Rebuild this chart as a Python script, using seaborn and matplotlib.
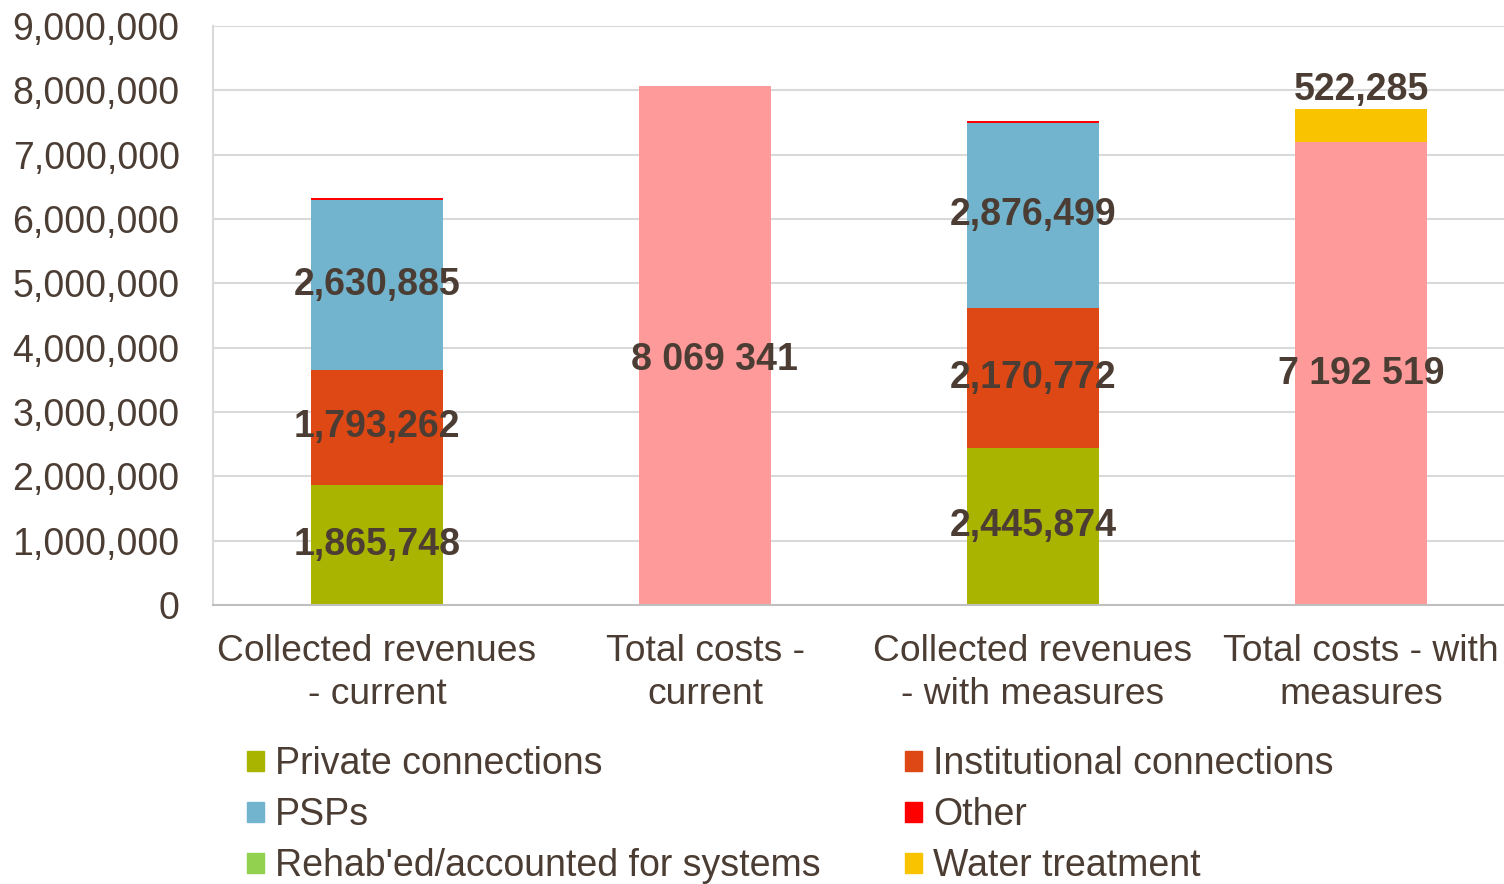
import pandas as pd
import matplotlib.pyplot as plt
import seaborn as sns
from matplotlib.patches import Patch

# chart values
categories = ["Collected revenues\n- current", "Total costs -\ncurrent",
              "Collected revenues\n- with measures", "Total costs - with\nmeasures"]
private = [1865748, 0, 2445874, 0]
institutional = [1793262, 0, 2170772, 0]
psps = [2630885, 0, 2876499, 0]
other = [32000, 0, 32000, 0]
rehab = [0, 0, 0, 0]
total_costs = [0, 8069341, 0, 7192519]
water = [0, 0, 0, 522285]

series_names = ["Total costs", "Private connections", "Institutional connections", "PSPs",
                "Other", "Rehab'ed/accounted for systems", "Water treatment"]
series_vals = [total_costs, private, institutional, psps, other, rehab, water]
colors = {"Total costs": "#FE9A9A", "Private connections": "#A8B400",
          "Institutional connections": "#DD4814", "PSPs": "#72B4CD",
          "Other": "#FF0000", "Rehab'ed/accounted for systems": "#92D050",
          "Water treatment": "#F9C300"}

rows = []
for name, vals in zip(series_names, series_vals):
    for c, v in zip(categories, vals):
        rows.append({"category": c, "series": name, "value": v})
df = pd.DataFrame(rows)
df["top"] = df.groupby("category")["value"].cumsum()
df["mid"] = df["top"] - df["value"] / 2

txt = "#4B3D33"
sns.set_style("white")
plt.rcParams["font.family"] = ["Liberation Sans", "DejaVu Sans"]

fig = plt.figure(figsize=(15.04, 8.84), dpi=100)
ax = fig.add_axes([213 / 1504, 1 - 605 / 884, (1525 - 213) / 1504, (605 - 26) / 884])

# stacked bars: draw cumulative tops from the last series down
for name in reversed(series_names):
    sub = df[df["series"] == name]
    sns.barplot(data=sub, x="category", y="top", order=categories, color=colors[name],
                width=0.4, saturation=1, linewidth=0, ax=ax, zorder=2)

ax.set_ylim(0, 9000000)
ax.set_xlim(-0.5, 3.5)
ax.set_yticks(range(0, 9000001, 1000000))
ax.yaxis.set_major_formatter(plt.FuncFormatter(lambda v, p: f"{int(v):,}"))
ax.grid(axis="y", color="#d9d9d9", linewidth=1.5, zorder=0)
ax.set_axisbelow(True)
ax.tick_params(axis="y", length=0, pad=24, labelsize=27, labelcolor=txt)
ax.tick_params(axis="x", length=0, pad=21, labelsize=26.8, labelcolor=txt)
for lbl in ax.get_xticklabels():
    lbl.set_linespacing(1.28)
ax.set_xlabel("")
ax.set_ylabel("")
for s in ["top", "right"]:
    ax.spines[s].set_visible(False)
ax.spines["left"].set_color("#d9d9d9")
ax.spines["bottom"].set_color("#bfbfbf")
ax.spines["left"].set_linewidth(1.5)
ax.spines["bottom"].set_linewidth(1.5)

# value labels
nudge = {1: (0.03, -230000)}
for _, r in df.iterrows():
    if r["value"] <= 0 or r["series"] in ("Other", "Rehab'ed/accounted for systems"):
        continue
    i = categories.index(r["category"])
    dx, dy = nudge.get(i, (0, 0))
    if r["series"] == "Total costs":
        ax.text(i + dx, r["mid"] + dy, f"{r['value']:,}".replace(",", " "), ha="center", va="center",
                fontsize=27, fontweight="bold", color=txt, zorder=3)
    elif r["series"] == "Water treatment":
        ax.text(i, r["top"] + 10000, f"{r['value']:,}", ha="center", va="bottom",
                fontsize=27, fontweight="bold", color=txt, zorder=3)
    else:
        ax.text(i, r["mid"], f"{r['value']:,}", ha="center", va="center",
                fontsize=27, fontweight="bold", color=txt, zorder=3)

legend_order = ["Private connections", "PSPs", "Rehab'ed/accounted for systems",
                "Institutional connections", "Other", "Water treatment"]
handles = [Patch(color=colors[n], label=n) for n in legend_order]
fig.legend(handles=handles, ncol=2, loc="upper left", bbox_to_anchor=(232 / 1504, 1 - 731 / 884),
           frameon=False, fontsize=27, labelcolor=txt, handlelength=0.45, handleheight=0.45,
           handletextpad=0.3, columnspacing=2.25, labelspacing=0.4, borderaxespad=0)

fig.savefig("out.png", dpi=100)
